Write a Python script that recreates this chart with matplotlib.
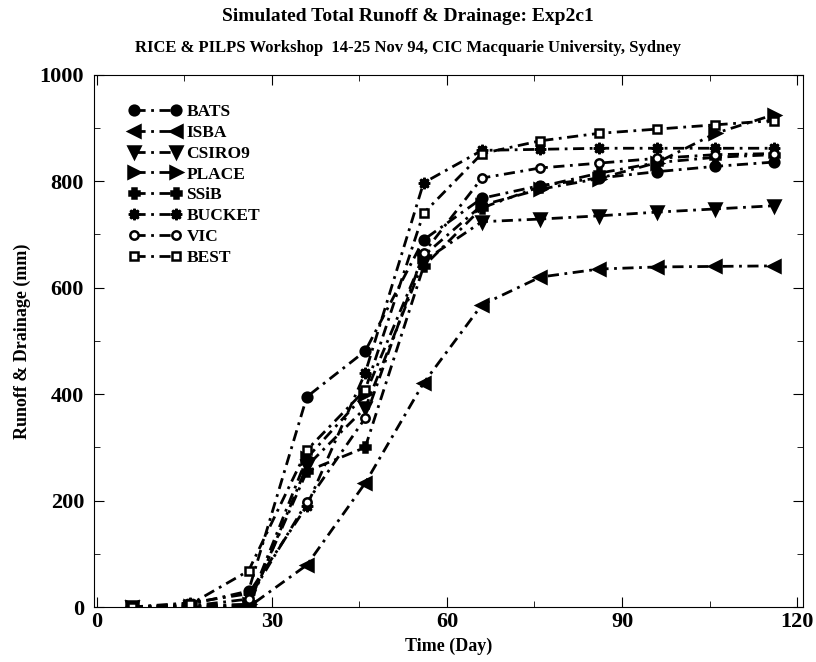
import numpy as np
import matplotlib
matplotlib.use("Agg")
import matplotlib.pyplot as plt
from matplotlib.ticker import MultipleLocator

plt.rcParams['font.family'] = ['Liberation Serif', 'DejaVu Serif']
plt.rcParams['font.weight'] = 'bold'

days = [6, 16, 26, 36, 46, 56, 66, 76, 86, 96, 106, 116]

bats = [0, 5, 30, 395, 481, 690, 768, 792, 806, 818, 828, 836]
isba = [0, 0, 0, 79, 233, 421, 568, 620, 635, 639, 640, 641]
csiro9 = [0, 0, 0, 265, 374, 650, 724, 729, 735, 742, 748, 754]
place = [0, 2, 5, 280, 400, 660, 755, 785, 805, 835, 890, 925]
ssib = [0, 0, 5, 255, 300, 640, 750, 790, 815, 835, 845, 850]
bucket = [0, 8, 25, 190, 440, 797, 858, 860, 862, 862, 862, 862]
vic = [0, 2, 15, 197, 355, 665, 806, 825, 834, 843, 850, 852]
best = [0, 5, 68, 295, 408, 740, 852, 876, 890, 898, 906, 914]

names = ['BATS', 'ISBA', 'CSIRO9', 'PLACE', 'SSiB', 'BUCKET', 'VIC', 'BEST']
series = [bats, isba, csiro9, place, ssib, bucket, vic, best]
markers = ['o', '<', 'v', '>', 'P', (8, 1, 0), 'o', 's']
faces = ['k', 'k', 'k', 'k', 'k', 'k', 'w', 'w']
sizes = [7, 8, 8, 8, 7, 8, 6, 6]

fig = plt.figure(figsize=(8.16, 6.62), dpi=100)
ax = fig.add_axes([0.115, 0.083, 0.869, 0.804])

for name, vals, m, fc, ms in zip(names, series, markers, faces, sizes):
    ax.plot(days, vals, color='k', lw=2, linestyle=(0, (4, 2, 1, 2)),
            marker=m, markersize=ms, markerfacecolor=fc,
            markeredgecolor='k', markeredgewidth=1.8, label=name)

ax.set_xlim(-0.5, 121)
ax.set_ylim(0, 1000)
ax.xaxis.set_major_locator(MultipleLocator(30))
ax.xaxis.set_minor_locator(MultipleLocator(15))
ax.yaxis.set_major_locator(MultipleLocator(200))
ax.yaxis.set_minor_locator(MultipleLocator(100))
ax.tick_params(which='both', direction='in', top=True, right=True, labelsize=16)
ax.tick_params(which='major', length=7)
ax.tick_params(which='minor', length=4)
ax.tick_params(axis='y', pad=7)
for lab in ax.get_xticklabels() + ax.get_yticklabels():
    lab.set_fontweight('bold')

ax.set_xlabel('Time (Day)', fontsize=13, fontweight='bold')
ax.set_ylabel('Runoff & Drainage (mm)', fontsize=13, fontweight='bold', labelpad=6)

leg = ax.legend(loc='upper left', bbox_to_anchor=(0.035, 0.965), frameon=False,
                numpoints=2, handlelength=3.0, handletextpad=0.3,
                labelspacing=0.27, borderaxespad=0.2,
                prop={'weight': 'bold', 'size': 12.5})

fig.text(0.5, 0.975, 'Simulated Total Runoff & Drainage: Exp2c1', ha='center',
         va='center', fontsize=14, fontweight='bold')
fig.text(0.5, 0.927, 'RICE & PILPS Workshop  14-25 Nov 94, CIC Macquarie University, Sydney',
         ha='center', va='center', fontsize=12, fontweight='bold')

fig.savefig('out.png', dpi=100)
